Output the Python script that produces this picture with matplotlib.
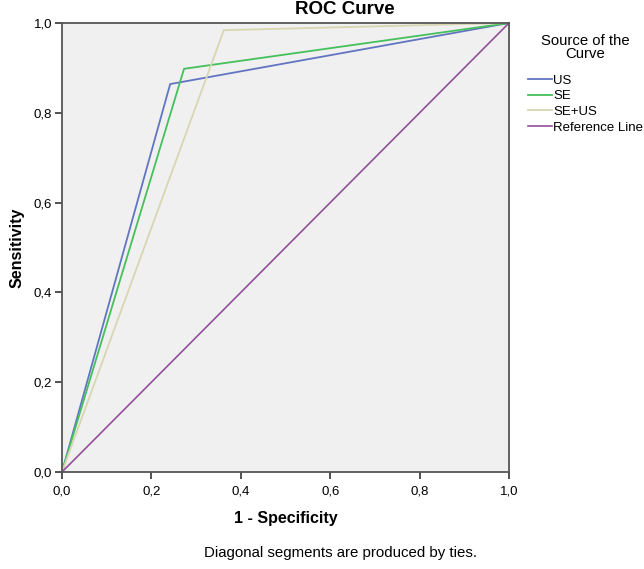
import matplotlib.pyplot as plt
import matplotlib.ticker as mticker

plt.rcParams['font.family'] = ['Liberation Sans', 'DejaVu Sans']

# ROC points (1 - specificity, sensitivity)
us_fpr = [0.0, 0.242, 1.0]
us_tpr = [0.0, 0.864, 1.0]
se_fpr = [0.0, 0.273, 1.0]
se_tpr = [0.0, 0.898, 1.0]
seus_fpr = [0.0, 0.362, 1.0]
seus_tpr = [0.0, 0.984, 1.0]
ref_x = [0.0, 1.0]
ref_y = [0.0, 1.0]

labels = ['US', 'SE', 'SE+US', 'Reference Line']
ticks = [0.0, 0.2, 0.4, 0.6, 0.8, 1.0]

W, H = 644, 569
fig = plt.figure(figsize=(W / 100, H / 100), dpi=100)
ax = fig.add_axes([62 / W, 1 - 472 / H, 447 / W, 449 / H])
ax.set_facecolor('#f0f0f0')

ax.plot(us_fpr, us_tpr, color='#6275c0', lw=1.3, label=labels[0])
ax.plot(se_fpr, se_tpr, color='#45c05a', lw=1.3, label=labels[1])
ax.plot(seus_fpr, seus_tpr, color='#d8d6b2', lw=1.3, label=labels[2])
ax.plot(ref_x, ref_y, color='#93509a', lw=1.2, label=labels[3])

ax.set_xlim(0, 1)
ax.set_ylim(0, 1)
ax.set_xticks(ticks)
ax.set_yticks(ticks)
fmt = mticker.FuncFormatter(lambda v, p: f"{v:.1f}".replace('.', ','))
ax.xaxis.set_major_formatter(fmt)
ax.yaxis.set_major_formatter(fmt)
ax.tick_params(direction='out', length=5, width=1.2, color='#333333',
               labelsize=9.5)
ax.tick_params(axis='x', pad=4.5)
ax.tick_params(axis='y', pad=2)
for s in ax.spines.values():
    s.set_color('#555555')
    s.set_linewidth(1.3)

ax.set_xlabel('1 - Specificity', fontsize=11.5, fontweight='bold', labelpad=10)
ax.set_ylabel('Sensitivity', fontsize=11.5, fontweight='bold', labelpad=7)

# title is centred on the whole chart area, not the axes
fig.text(345 / W, 1 - 9 / H, 'ROC Curve', ha='center', va='center',
         fontsize=13.5, fontweight='bold')

# legend title
fig.text(585 / W, 1 - 47.5 / H, 'Source of the\nCurve', ha='center',
         va='center', multialignment='center', fontsize=10.7, linespacing=0.9)

ax.legend(loc='upper left', bbox_to_anchor=(528 / W, 1 - 74.5 / H),
          bbox_transform=fig.transFigure, frameon=False, fontsize=9.5,
          handlelength=1.8, handletextpad=0.1, labelspacing=0.26,
          borderaxespad=0, borderpad=0)

fig.text(340 / W, 1 - 553 / H, 'Diagonal segments are produced by ties.',
         ha='center', va='center', fontsize=10.8)

fig.savefig('out.png', dpi=100)
